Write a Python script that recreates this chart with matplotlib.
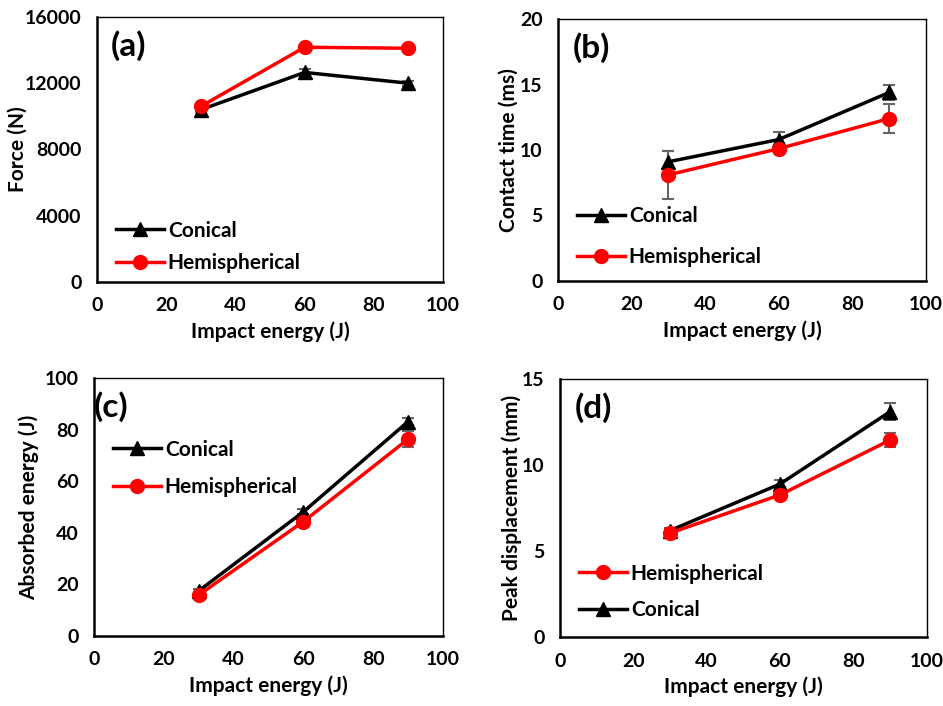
import matplotlib.pyplot as plt

plt.rcParams['font.family'] = ['Lato', 'DejaVu Sans']
plt.rcParams['font.weight'] = 'bold'

# impact energies (J)
energy = [30, 60, 90]

# (a) peak force (N)
force_con = [10400, 12650, 12000]
force_con_err = [150, 200, 150]
force_hemi = [10600, 14170, 14110]
force_hemi_err = [100, 100, 100]

# (b) contact time (ms)
time_con = [9.1, 10.8, 14.4]
time_con_err = [0.8, 0.6, 0.6]
time_hemi = [8.1, 10.1, 12.4]
time_hemi_err = [1.85, 0.3, 1.1]

# (c) absorbed energy (J)
abs_con = [17.5, 48.2, 83.2]
abs_con_err = [0.8, 1.0, 1.2]
abs_hemi = [15.9, 44.4, 76.4]
abs_hemi_err = [0.6, 0.8, 3.0]

# (d) peak displacement (mm)
disp_con = [6.2, 8.9, 13.1]
disp_con_err = [0.15, 0.25, 0.5]
disp_hemi = [6.05, 8.27, 11.45]
disp_hemi_err = [0.1, 0.15, 0.4]

fig = plt.figure(figsize=(9.43, 7.06), dpi=100)
positions = [
    [0.1029, 0.6006, 0.3669, 0.3754],
    [0.5917, 0.6024, 0.3902, 0.3703],
    [0.0997, 0.0992, 0.3701, 0.3650],
    [0.5938, 0.0973, 0.3889, 0.3659],
]
axes = [fig.add_axes(p) for p in positions]
FS = 15


def draw(ax, con, con_err, hemi, hemi_err, hemi_first=False):
    ekw = dict(fmt='none', ecolor='#666666', elinewidth=1.5, capsize=4, capthick=1.5, zorder=1)
    ax.errorbar(energy, con, yerr=con_err, **ekw)
    ax.errorbar(energy, hemi, yerr=hemi_err, **ekw)
    h_c, = ax.plot(energy, con, color='black', marker='^', lw=2.5, ms=10, label='Conical', zorder=2)
    h_h, = ax.plot(energy, hemi, color='red', marker='o', lw=2.5, ms=10, label='Hemispherical', zorder=3)
    if hemi_first:
        return [h_h, h_c]
    return [h_c, h_h]


def style(ax, ylim, yticks, ylabel, tag, tagx=0.04, ypad=4):
    ax.set_xlim(0, 100)
    ax.set_xticks([0, 20, 40, 60, 80, 100])
    ax.set_ylim(*ylim)
    ax.set_yticks(yticks)
    ax.tick_params(length=0, labelsize=FS - 1, pad=11)
    for lab in ax.get_xticklabels() + ax.get_yticklabels():
        lab.set_fontweight('bold')
    ax.set_xlabel('Impact energy (J)', fontsize=FS, fontweight='bold', labelpad=5)
    ax.set_ylabel(ylabel, fontsize=FS, fontweight='bold', labelpad=ypad)
    for s in ['left', 'bottom']:
        ax.spines[s].set_linewidth(1.8)
    for s in ['top', 'right']:
        ax.spines[s].set_linewidth(1.0)
    ax.text(tagx, 0.95, tag, transform=ax.transAxes, fontsize=24, fontweight='bold', va='top')


def legend(ax, handles, loc, anchor, spacing):
    ax.legend(handles=handles, loc=loc, bbox_to_anchor=anchor, frameon=False,
              handlelength=2.3, labelspacing=spacing, handletextpad=0.2,
              prop={'weight': 'bold', 'size': FS})


h = draw(axes[0], force_con, force_con_err, force_hemi, force_hemi_err)
style(axes[0], (0, 16000), [0, 4000, 8000, 12000, 16000], 'Force (N)', '(a)', ypad=-2)
legend(axes[0], h, 'lower left', (0.0, -0.037), 0.6)

h = draw(axes[1], time_con, time_con_err, time_hemi, time_hemi_err)
style(axes[1], (0, 20), [0, 5, 10, 15, 20], 'Contact time (ms)', '(b)', ypad=1)
legend(axes[1], h, 'lower left', (0.0, -0.02), 1.0)

h = draw(axes[2], abs_con, abs_con_err, abs_hemi, abs_hemi_err)
style(axes[2], (0, 100), [0, 20, 40, 60, 80, 100], 'Absorbed energy (J)', '(c)', tagx=0.0)
legend(axes[2], h, 'upper left', (0.0, 0.835), 0.85)

h = draw(axes[3], disp_con, disp_con_err, disp_hemi, disp_hemi_err, hemi_first=True)
style(axes[3], (0, 15), [0, 5, 10, 15], 'Peak displacement (mm)', '(d)', ypad=0)
legend(axes[3], h, 'lower left', (0.0, -0.007), 0.8)

fig.savefig('out.png', dpi=100)
